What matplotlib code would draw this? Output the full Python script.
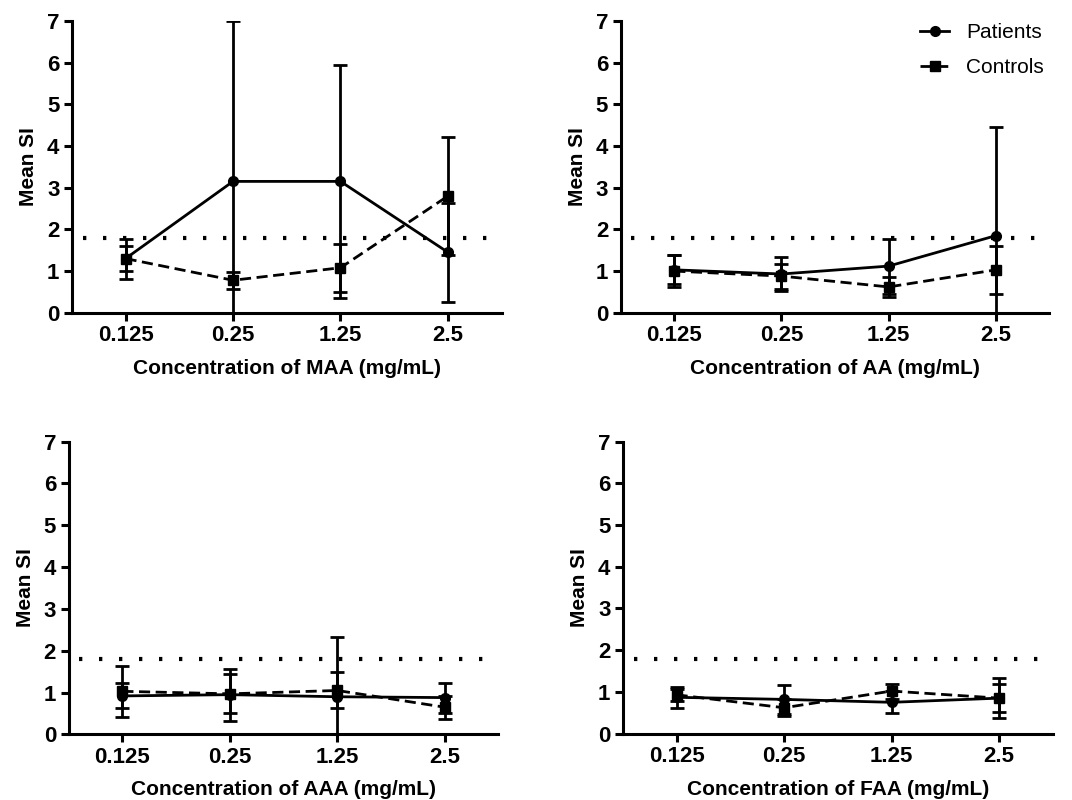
import numpy as np
import matplotlib.pyplot as plt

plt.rcParams['font.family'] = ['Liberation Sans', 'DejaVu Sans']

conc = ['0.125', '0.25', '1.25', '2.5']
panels = ['MAA', 'AA', 'AAA', 'FAA']

# mean SI, patients
pat_mean = {'MAA': [1.30, 3.15, 3.15, 1.45],
            'AA':  [1.03, 0.93, 1.12, 1.85],
            'AAA': [0.92, 0.95, 0.90, 0.88],
            'FAA': [0.87, 0.82, 0.75, 0.85]}
pat_err = {'MAA': [0.48, 3.85, 2.80, 1.18],
           'AA':  [0.35, 0.40, 0.66, 2.60],
           'AAA': [0.30, 0.62, 1.42, 0.36],
           'FAA': [0.25, 0.35, 0.26, 0.48]}
# mean SI, controls
con_mean = {'MAA': [1.30, 0.78, 1.08, 2.80],
            'AA':  [1.00, 0.88, 0.62, 1.03],
            'AAA': [1.03, 0.97, 1.05, 0.65],
            'FAA': [0.93, 0.62, 1.02, 0.85]}
con_err = {'MAA': [0.30, 0.21, 0.57, 1.42],
           'AA':  [0.38, 0.30, 0.24, 0.57],
           'AAA': [0.61, 0.47, 0.43, 0.27],
           'FAA': [0.15, 0.20, 0.18, 0.33]}
threshold = 1.8

fig = plt.figure(figsize=(10.72, 8), dpi=100)
pos = [[0.067, 0.609, 0.401, 0.365],
       [0.579, 0.609, 0.400, 0.365],
       [0.064, 0.082, 0.401, 0.366],
       [0.581, 0.083, 0.401, 0.365]]

x = np.arange(len(conc))
for i, name in enumerate(panels):
    ax = fig.add_axes(pos[i])
    ax.errorbar(x, pat_mean[name], yerr=pat_err[name], color='black', lw=2,
                marker='o', ms=7, capsize=5, elinewidth=2, capthick=2,
                label='Patients')
    ax.errorbar(x, con_mean[name], yerr=con_err[name], color='black', lw=2,
                ls=(0, (4, 2)), marker='s', ms=7, capsize=5, elinewidth=2,
                capthick=2, label='Controls')
    ax.axhline(threshold, xmin=0.025, color='black', lw=3, ls=(0, (0.8, 4.0)))
    ax.set_xlim(-0.5, 3.5)
    ax.set_ylim(0, 7)
    ax.set_xticks(x)
    ax.set_xticklabels(conc)
    ax.set_yticks(range(8))
    for s in ['top', 'right']:
        ax.spines[s].set_visible(False)
    for s in ['left', 'bottom']:
        ax.spines[s].set_linewidth(2.2)
    ax.tick_params(width=2.2, length=6, labelsize=16, pad=3)
    for lab in ax.get_xticklabels() + ax.get_yticklabels():
        lab.set_fontweight('bold')
    ax.set_ylabel('Mean SI', fontsize=15, fontweight='bold', labelpad=6)
    ax.set_xlabel('Concentration of ' + name + ' (mg/mL)', fontsize=15,
                  fontweight='bold', labelpad=9)
    if name == 'AA':
        h, l = ax.get_legend_handles_labels()
        h = [hh[0] for hh in h]
        ax.legend(h, l, loc='upper right', frameon=False, fontsize=15,
                  handlelength=1.4, handletextpad=0.8, labelspacing=0.75,
                  bbox_to_anchor=(1.03, 1.055))

fig.savefig('out.png', dpi=100)
